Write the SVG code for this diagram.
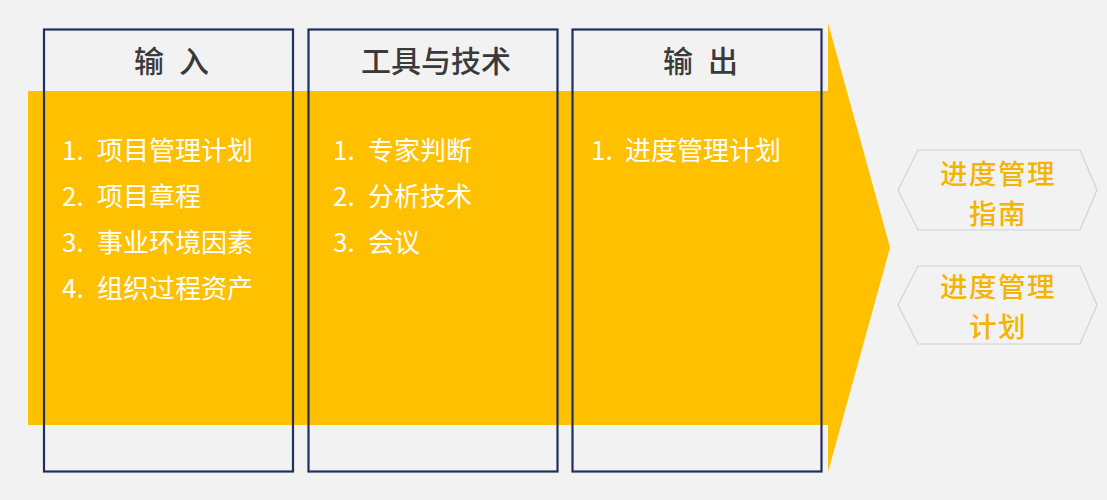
<svg xmlns="http://www.w3.org/2000/svg" width="1107" height="500" viewBox="0 0 1107 500">
  <style>
    .bg { fill: #f2f2f2; }
    .arrow { fill: #ffc000; }
    .box { fill: none; stroke: #1f3060; stroke-width: 2.2; }
    .head { font-family: "Noto Sans CJK SC", "Noto Sans", sans-serif; font-size: 30px; fill: #3a3a3a; font-weight: 500; }
    .item { font-family: "Noto Sans CJK SC", "Noto Sans", sans-serif; font-size: 26px; fill: #ffffff; }
    .hex { fill: #f2f2f2; stroke: #d2d2d2; stroke-width: 1.2; }
    .hext { font-family: "Noto Sans CJK SC", "Noto Sans", sans-serif; font-size: 27.5px; fill: #f4b400; text-anchor: middle; font-weight: 500; letter-spacing: 1.5px; }
  </style>
  <rect class="bg" x="0" y="0" width="1107" height="500"/>

  <g id="flow-arrow">
    <polygon class="arrow" points="28,91 828,91 828,23 890,247.5 828,472 828,425 28,425"/>
  </g>

  <g id="connectors"></g>

  <g id="inputs">
    <rect class="box" x="44" y="29.5" width="249" height="442"/>
    <text class="head" x="134" y="72">输 <tspan x="179">入</tspan></text>
    <text class="item" x="62" y="160">1.<tspan x="97">项目管理计划</tspan></text>
    <text class="item" x="62" y="206">2.<tspan x="97">项目章程</tspan></text>
    <text class="item" x="62" y="252">3.<tspan x="97">事业环境因素</tspan></text>
    <text class="item" x="62" y="298">4.<tspan x="97">组织过程资产</tspan></text>
  </g>

  <g id="tools">
    <rect class="box" x="308.5" y="29.5" width="249" height="442"/>
    <text class="head" x="436" y="72" text-anchor="middle">工具与技术</text>
    <text class="item" x="333" y="160">1.<tspan x="368">专家判断</tspan></text>
    <text class="item" x="333" y="206">2.<tspan x="368">分析技术</tspan></text>
    <text class="item" x="333" y="252">3.<tspan x="368">会议</tspan></text>
  </g>

  <g id="outputs">
    <rect class="box" x="572.5" y="29.5" width="249" height="442"/>
    <text class="head" x="663" y="72">输 <tspan x="708">出</tspan></text>
    <text class="item" x="591" y="160">1.<tspan x="625">进度管理计划</tspan></text>
  </g>

  <g id="schedule-guide">
    <polygon class="hex" points="898,190 918,150 1080,150 1097,190 1080,230 918,230"/>
    <text class="hext" x="998" y="184">进度管理<tspan x="998" dy="40">指南</tspan></text>
  </g>

  <g id="schedule-plan">
    <polygon class="hex" points="898,305 918,266 1080,266 1097,305 1080,344 918,344"/>
    <text class="hext" x="998" y="297">进度管理<tspan x="998" dy="40">计划</tspan></text>
  </g>
</svg>
